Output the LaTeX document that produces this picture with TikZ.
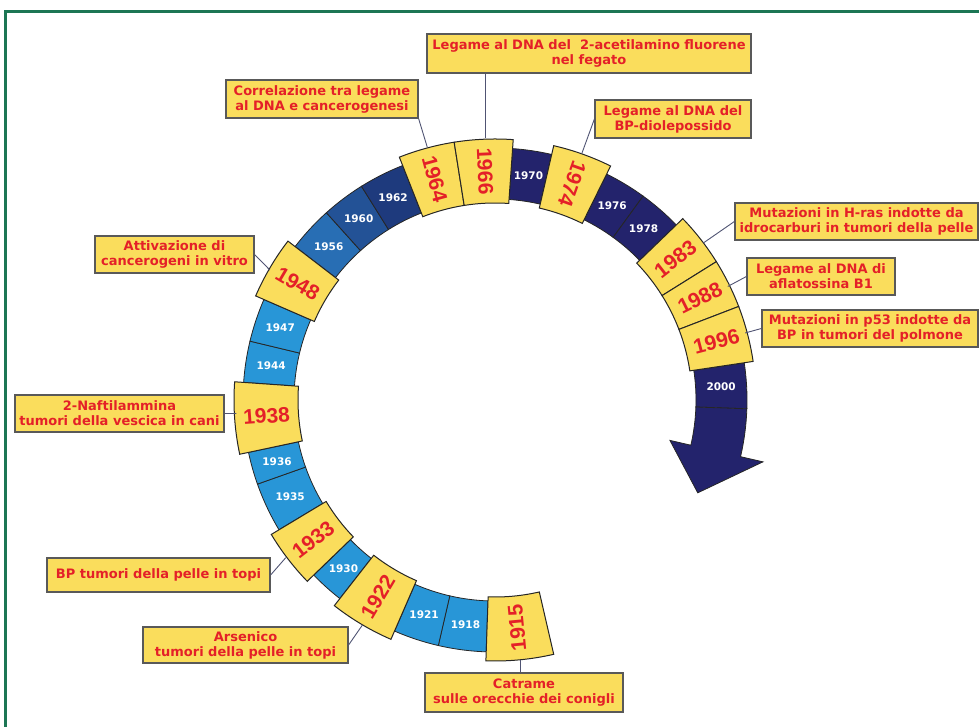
\documentclass[tikz,border=0pt]{standalone}
\usepackage{fontspec}
\setmainfont{DejaVu Sans}
\newfontfamily\yearfont{Liberation Sans}
\definecolor{framegreen}{RGB}{28,118,84}
\definecolor{sky}{RGB}{40,150,215}
\definecolor{steel}{RGB}{40,110,180}
\definecolor{slate}{RGB}{35,82,150}
\definecolor{deep}{RGB}{30,58,125}
\definecolor{night}{RGB}{35,35,108}
\definecolor{gold}{RGB}{250,221,92}
\definecolor{alarm}{RGB}{228,32,40}
\definecolor{wire}{RGB}{80,84,115}

\begin{document}
\begin{tikzpicture}[x=1pt, y=1pt,
      blueseg/.style={draw=black!85, line width=0.8pt},
      bluelabel/.style={text=white, inner sep=0pt,
        font=\fontsize{10.5}{12}\selectfont\bfseries},
      yellowseg/.style={draw=black!85, fill=gold, line width=1pt},
      yellowlabel/.style={text=alarm, inner sep=0pt,
        font=\yearfont\fontsize{21}{21}\selectfont\bfseries},
      fact/.style={draw=black!65, fill=gold, text=alarm, line width=1.2pt,
        align=center, inner sep=2pt,
        font=\fontsize{13}{15}\selectfont\bfseries},
      link/.style={draw=wire, line width=0.9pt}]
    \useasboundingbox (0,0) rectangle (979,727);
    \draw[framegreen, line width=3pt] (5,0) -- (5,715) -- (979,715);

    \begin{scope}[shift={(495,327)}]
      % blue ring
      \foreach \a/\b/\yr/\col in {-103/-92/1918/sky, -113.5/-103/1921/sky,
          -136/-128/1930/sky, -160.5/-149/1935/sky, -168/-160.5/1936/sky,
          -193.5/-184/1944/sky, -203.5/-193.5/1947/sky, -228/-217.5/1956/steel,
          -238/-228/1960/slate, -248.5/-238/1962/deep, -283/-274/1970/night,
          -306/-296.3/1976/night, -316/-306/1978/night, -362/-351.5/2000/night}
      {
        \filldraw[blueseg, fill=\col] (\a:201pt)
          arc[start angle=\a, end angle=\b, radius=201pt] -- (\b:252pt)
          arc[start angle=\b, end angle=\a, radius=252pt] -- cycle;
        \node[bluelabel] (s\yr) at ({(\a+\b)/2}:226.5pt) {\yr};
      }
      \filldraw[blueseg, fill=night] (-362:252pt)
        arc[start angle=-362, end angle=-373, radius=252pt] -- (-373:275pt)
        -- (-384.6:223pt) -- (-373:179.5pt) -- (-373:201pt)
        arc[start angle=-373, end angle=-362, radius=201pt] -- cycle;

      % yellow years
      \foreach \a/\b/\yr/\rot in {-92/-77/1915/95.5, -128/-113.5/1922/59.25,
          -149/-136/1933/37.5, -184/-168/1938/4, -217.5/-203.5/1948/-30.5,
          -261/-248.5/1964/-74.75, -274/-261/1966/-87.5,
          -296.3/-283/1974/-109.65, -328/-316/1983/38,
          -339/-328/1988/26.5, -351.5/-339/1996/14.75}
      {
        \filldraw[yellowseg] (\a:197pt)
          arc[start angle=\a, end angle=\b, radius=197pt] -- (\b:261pt)
          arc[start angle=\b, end angle=\a, radius=261pt] -- cycle;
        \node[yellowlabel, rotate=\rot] (t\yr) at ({(\a+\b)/2}:229pt) {\yr};
      }

      \coordinate (y1915) at (-84.5:261pt);
      \coordinate (y1922) at (-120.5:261pt);
      \coordinate (y1933) at (-143:262pt);
      \coordinate (y1938) at (-177:259pt);
      \coordinate (y1948) at (150:260pt);
      \coordinate (y1964) at (105:262pt);
      \coordinate (y1966) at (92:262pt);
      \coordinate (y1974) at (70.6:261pt);
      \coordinate (y1983) at (37:261pt);
      \coordinate (y1988) at (26:259pt);
      \coordinate (y1996) at (15:259pt);
    \end{scope}

    % events
    \node[fact, minimum width=324pt, minimum height=39pt] (acet) at (589,673.5)
      {Legame al DNA del\ \ 2-acetilamino fluorene\\nel fegato};
    \node[fact, minimum width=192pt, minimum height=38pt] (corr) at (322,628)
      {Correlazione tra legame\\al DNA e cancerogenesi};
    \node[fact, minimum width=156pt, minimum height=38pt] (diol) at (673,608)
      {Legame al DNA del\\BP-diolepossido};
    \node[fact, minimum width=243pt, minimum height=37pt] (hras) at (856.5,505.5)
      {Mutazioni in H-ras indotte da\\idrocarburi in tumori della pelle};
    \node[fact, minimum width=148pt, minimum height=37pt] (afla) at (821,450.5)
      {Legame al DNA di\\aflatossina B1};
    \node[fact, minimum width=216pt, minimum height=37pt] (p53) at (870,398.5)
      {Mutazioni in p53 indotte da\\BP in tumori del polmone};
    \node[fact, minimum width=159pt, minimum height=37pt] (attiv) at (174.5,472.5)
      {Attivazione di\\cancerogeni in vitro};
    \node[fact, minimum width=209pt, minimum height=37pt] (naft) at (119.5,313.5)
      {2-Naftilammina\\tumori della vescica in cani};
    \node[fact, minimum width=223pt, minimum height=34pt] (pelle) at (158.5,152)
      {BP tumori della pelle in topi};
    \node[fact, minimum width=205pt, minimum height=36pt] (arsen) at (245.5,82)
      {Arsenico\\tumori della pelle in topi};
    \node[fact, minimum width=198pt, minimum height=39pt] (catr) at (524,34.5)
      {Catrame\\sulle orecchie dei conigli};

    \draw[link] (y1966) -- (y1966 |- acet.south);
    \draw[link] (corr.south east) -- (y1964);
    \draw[link] (diol.west) -- (y1974);
    \draw[link] (hras.west) -- (y1983);
    \draw[link] (afla.west) -- (y1988);
    \draw[link] (p53.west) -- (y1996);
    \draw[link] (attiv.east) -- (y1948);
    \draw[link] (naft.east) -- (y1938);
    \draw[link] (pelle.east) -- (y1933);
    \draw[link] (arsen.east) -- (y1922);
    \draw[link] (y1915) -- (y1915 |- catr.north);
  \end{tikzpicture}
\end{document}
